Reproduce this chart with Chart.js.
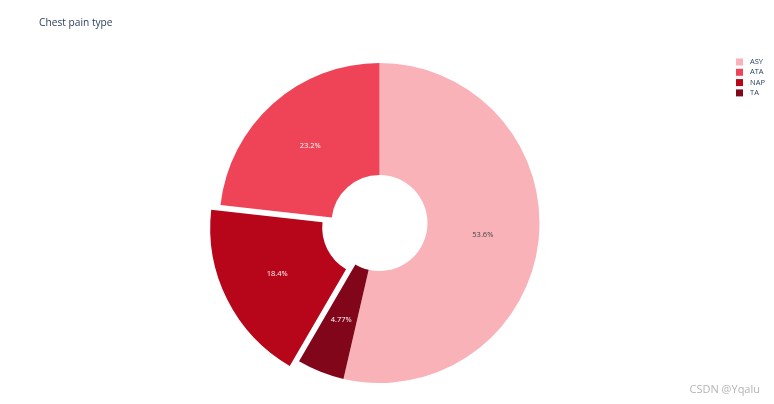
<!DOCTYPE html>
<html>
<head>
<meta charset="utf-8">
<script src="https://cdn.jsdelivr.net/npm/chart.js@4/dist/chart.umd.min.js"></script>
<style>
  html, body { margin: 0; padding: 0; background: #fff; }
</style>
</head>
<body>
<canvas id="chart" width="774" height="404"></canvas>
<script>
"use strict"

// slices in drawing order, clockwise from 12 o'clock
const categories = ["ASY", "TA", "NAP", "ATA"]
const percents = [53.6, 4.77, 18.4, 23.2]
const percentLabels = ["53.6%", "4.77%", "18.4%", "23.2%"]
const pulls = [0, 0, 0.065, 0] // fraction of the radius
const legendOrder = ["ASY", "ATA", "NAP", "TA"]

const sliceColors = ["#f8b2b8", "#82061a", "#b70519", "#ef4457"]
const labelColors = ["#444444", "#ffffff", "#ffffff", "#ffffff"]
const fontName = "'Open Sans', 'DejaVu Sans', sans-serif"

// move the pulled slices outward along their middle angle
const pullPlugin = {
    id: "pull",
    afterDatasetsUpdate(chart) {
        const meta = chart.getDatasetMeta(0)
        meta.data.forEach((arc, i) => {
            const mid = (arc.startAngle + arc.endAngle) / 2
            const d = pulls[i] * arc.outerRadius
            arc.x += Math.cos(mid) * d
            arc.y += Math.sin(mid) * d
        })
    }
}

const textPlugin = {
    id: "texts",
    afterDraw(chart) {
        const ctx = chart.ctx
        const meta = chart.getDatasetMeta(0)
        ctx.save()
        ctx.textAlign = "center"
        ctx.textBaseline = "middle"
        ctx.font = "7.5px " + fontName
        meta.data.forEach((arc, i) => {
            const p = arc.tooltipPosition()
            ctx.fillStyle = labelColors[i]
            ctx.fillText(percentLabels[i], p.x, p.y)
        })

        // title
        ctx.textAlign = "left"
        ctx.font = "10.2px " + fontName
        ctx.fillStyle = "#2a3f5f"
        ctx.fillText("Chest pain type", 39, 23)

        // legend
        ctx.font = "7.5px " + fontName
        legendOrder.forEach((name, k) => {
            const i = categories.indexOf(name)
            const y = 62 + k * 10.3
            ctx.fillStyle = sliceColors[i]
            ctx.fillRect(736, y - 3.5, 7, 7)
            ctx.fillStyle = "#2a3f5f"
            ctx.fillText(name, 750, y)
        })

        // watermark
        ctx.textAlign = "right"
        ctx.font = "11px " + fontName
        ctx.fillStyle = "#b4b4b4"
        ctx.fillText("CSDN @Yqalu", 760, 390)
        ctx.restore()
    }
}

const data = {
    labels: categories,
    datasets: [{
        data: percents,
        backgroundColor: sliceColors,
        borderWidth: 0,
        hoverOffset: 0
    }]
}

const config = {
    type: "doughnut",
    data: data,
    options: {
        responsive: false,
        animation: false,
        radius: 160,
        cutout: "30%",
        layout: { padding: { left: 0, right: 15, top: 42, bottom: 0 } },
        plugins: {
            legend: { display: false },
            tooltip: { enabled: false },
            title: { display: false }
        },
        events: []
    },
    plugins: [pullPlugin, textPlugin]
}

new Chart(document.getElementById("chart"), config)
</script>
</body>
</html>
